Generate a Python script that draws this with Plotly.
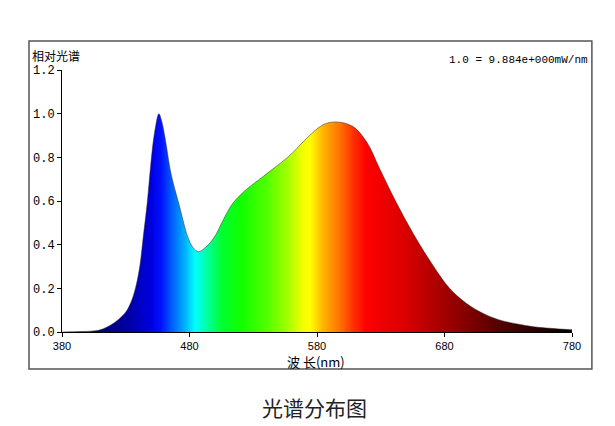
import plotly.graph_objects as go

# relative spectral power
wavelength = [380, 395, 405, 410, 415, 421, 427, 431, 435, 438, 441, 444, 447, 449.5, 452.5,
              456, 458, 460.8, 465, 468, 472, 475, 479, 483, 487, 492, 499, 507, 514, 525,
              535, 545, 559, 572, 585, 595, 608, 619, 629, 642, 656, 671, 684, 697, 710,
              723, 737, 750, 763, 780]
relative = [0.000, 0.002, 0.005, 0.010, 0.022, 0.042, 0.072, 0.10, 0.15, 0.21, 0.30, 0.45, 0.60, 0.76, 0.91,
            1.00, 0.97, 0.89, 0.74, 0.665, 0.58, 0.51, 0.43, 0.385, 0.368, 0.385, 0.43, 0.52, 0.59, 0.655,
            0.70, 0.745, 0.81, 0.888, 0.95, 0.962, 0.942, 0.87, 0.75, 0.595, 0.445, 0.305, 0.2, 0.132, 0.086,
            0.055, 0.037, 0.024, 0.017, 0.01]

x_ticks = [380, 480, 580, 680, 780]
y_ticks = [0.0, 0.2, 0.4, 0.6, 0.8, 1.0, 1.2]

# colour of the fill by wavelength
spec_nm = [380, 405, 430, 450, 457, 468, 476, 484, 495, 505, 520, 540, 556, 568, 574,
           585, 598, 608, 618, 650, 690, 720, 750, 780]
spec_col = ['#000030', '#000070', '#0000a0', '#0000e0', '#0010ff', '#0070ff', '#00b0ff', '#00ffff',
            '#00ff90', '#00ff30', '#10ff00', '#50ff00', '#a0ff00', '#f0ff00', '#ffff00',
            '#ffb000', '#ff7000', '#ff3000', '#ff0000', '#d80000', '#900000', '#580000', '#280000', '#000000']

lo, hi = x_ticks[0], x_ticks[-1]
colorscale = [[(w - lo) / (hi - lo), c] for w, c in zip(spec_nm, spec_col)]

fig = go.Figure()

# rainbow background, later masked above the curve
fig.add_trace(go.Heatmap(
    x=[lo, hi], y=[0, 1.2], z=[[lo, hi], [lo, hi]],
    zmin=lo, zmax=hi, zsmooth='best', colorscale=colorscale,
    showscale=False, hoverinfo='skip'
))
fig.add_trace(go.Scatter(
    x=[lo, hi], y=[1.3, 1.3], mode='lines', line=dict(width=0),
    showlegend=False, hoverinfo='skip'
))
fig.add_trace(go.Scatter(
    x=wavelength, y=relative, mode='lines',
    line=dict(color='rgba(50,30,30,0.6)', width=0.8, shape='spline', smoothing=1.0),
    fill='tonexty', fillcolor='white', showlegend=False
))

# page body has an 8px margin, so the figure is 8px smaller and margins shifted
fig.update_layout(
    width=607, height=418,
    margin=dict(l=54, r=43, t=62, b=94),
    paper_bgcolor='white', plot_bgcolor='white',
    xaxis=dict(range=[lo, hi], tickvals=x_ticks, showgrid=False, zeroline=False,
               showline=True, linecolor='black', linewidth=1,
               ticks='outside', ticklen=4, tickcolor='black',
               tickfont=dict(family='Liberation Sans', size=11, color='black')),
    yaxis=dict(range=[0, 1.2], tickvals=y_ticks, tickformat='.1f', showgrid=False, zeroline=False,
               showline=True, linecolor='black', linewidth=1,
               ticks='outside', ticklen=4, tickcolor='black',
               tickfont=dict(family='Liberation Mono', size=12, color='black')),
    shapes=[dict(type='rect', xref='paper', yref='paper',
                 x0=-0.0647, x1=1.039, y0=-0.1412, y1=1.1107,
                 line=dict(color='#555555', width=1.5))],
    annotations=[
        dict(text='相对光谱', x=-0.0627, y=1.057, xref='paper', yref='paper',
             xanchor='left', yanchor='middle', showarrow=False,
             font=dict(family='Noto Sans CJK SC', size=12, color='black')),
        dict(text='1.0 = 9.884e+000mW/nm', x=1.035, y=1.038, xref='paper', yref='paper',
             xanchor='right', yanchor='middle', showarrow=False,
             font=dict(family='Liberation Mono', size=11, color='black')),
        dict(text='波 长(nm)', x=0.498, y=-0.112, xref='paper', yref='paper',
             xanchor='center', yanchor='middle', showarrow=False,
             font=dict(family='Noto Sans CJK SC', size=13, color='black')),
        dict(text='光谱分布图', x=0.496, y=-0.286, xref='paper', yref='paper',
             xanchor='center', yanchor='middle', showarrow=False,
             font=dict(family='Noto Sans CJK SC', size=21, color='#222222')),
    ],
)

fig.write_html("out.html")
